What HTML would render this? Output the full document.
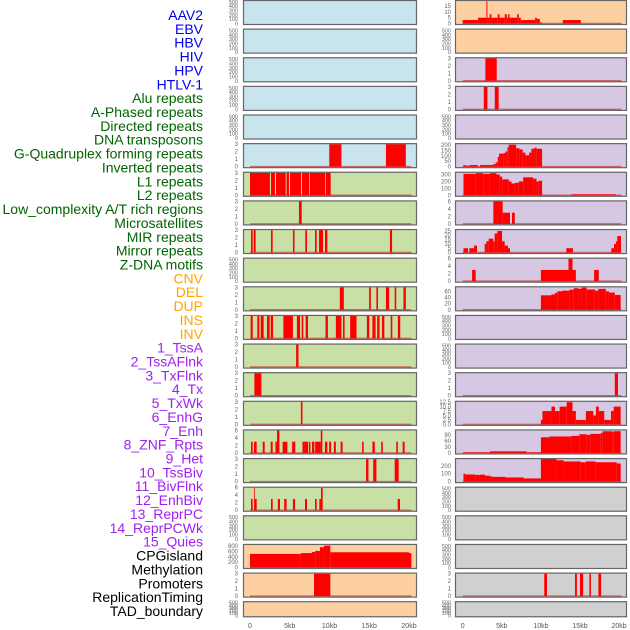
<!DOCTYPE html>
<html><head><meta charset="utf-8"><style>
html,body{margin:0;padding:0;background:#fff;}
svg{display:block;font-family:"Liberation Sans",sans-serif;}
</style></head><body>
<svg id="chart" width="630" height="630" viewBox="0 0 630 630" xmlns="http://www.w3.org/2000/svg"></svg>
<script>
// ---- data ----
const labels = ["AAV2","EBV","HBV","HIV","HPV","HTLV-1","Alu repeats","A-Phased repeats","Directed repeats","DNA transposons","G-Quadruplex forming repeats","Inverted repeats","L1 repeats","L2 repeats","Low_complexity A/T rich regions","Microsatellites","MIR repeats","Mirror repeats","Z-DNA motifs","CNV","DEL","DUP","INS","INV","1_TssA","2_TssAFlnk","3_TxFlnk","4_Tx","5_TxWk","6_EnhG","7_Enh","8_ZNF_Rpts","9_Het","10_TssBiv","11_BivFlnk","12_EnhBiv","13_ReprPC","14_ReprPCWk","15_Quies","CPGisland","Methylation","Promoters","ReplicationTiming","TAD_boundary"];
const labelGroups = [6,13,5,15,5];
const groupColors = ["#0000ee","#006400","#ffa500","#a020f0","#000000"];
const xTickLabels = ["0","5kb","10kb","15kb","20kb"];
const xTickValues = [0,5,10,15,20];
const emptyTicks = [0,100,200,300,400,500];
const ticks3 = [0,1,2,3];
const ticks6 = [0,2,4,6];

// segments: [startKb, endKb, value]
const leftBg = ["b","b","b","b","b","b","g","g","g","g","g","g","g","g","g","g","g","g","g","o","o","o"];
const rightBg = ["o","o","p","p","p","p","p","p","p","p","p","p","p","p","p","p","p","y","y","y","y","y"];

const L_gquad = [[9.97,11.5,3],[17.1,19.6,3]];
const L_inv = [[0,2.5,3],[2.64,3.14,3],[3.27,4.49,3],[4.6,4.9,3],[5.03,6.42,3],[6.54,7.46,3],[7.55,9.48,3],[9.56,10.15,3]];
const L_l1 = [[6.16,6.5,3]];
const L_l2 = [[0.13,0.34,3],[0.46,0.71,3],[2.64,2.85,3],[5.4,5.6,3],[6.96,7.17,3],[8.18,8.39,3],[8.68,9.18,3],[9.43,9.73,3],[17.6,17.87,3]];
const L_mir = [[11.3,11.8,3],[14.98,15.2,3],[15.9,16.1,3],[17.1,17.5,3],[18.2,18.4,3],[19.3,19.6,3]];
const L_mirror = [[0.08,0.34,3],[0.92,1.17,3],[1.34,1.72,3],[2.14,2.47,3],[2.6,2.9,3],[4.2,5.4,3],[5.9,6.3,3],[6.5,6.7,3],[7.0,7.3,3],[9.5,9.8,3],[10.8,11.5,3],[11.7,11.9,3],[12.6,13.4,3],[14.7,15.0,3],[15.4,15.8,3],[16.0,16.3,3],[16.6,16.9,3],[17.7,17.9,3],[18.6,18.9,3]];
const L_zdna = [[5.8,6.1,3]];
const L_cnv = [[0.55,1.43,3]];
const L_del = [[6.4,6.6,3]];
const L_dup = [[0.13,0.34,3],[0.5,0.84,3],[1.6,1.85,3],[2.6,2.85,3],[3.2,3.4,3],[3.4,3.7,6],[4.1,4.7,3],[5.3,5.7,3],[6.6,6.8,3],[6.8,7.3,3],[7.4,7.6,3],[7.8,8.1,3],[8.2,8.9,3],[8.9,9.1,6],[9.43,9.73,3],[9.95,10.2,3],[10.55,10.8,3],[11.4,11.65,3],[14.1,14.3,3],[15.4,15.7,3],[16.5,16.7,3],[18.4,18.6,3],[19.2,19.45,3]];
const L_invsv = [[14.6,14.9,3],[15.5,15.9,3],[18.2,18.7,3]];
const L_tssa = [[0.13,0.34,3],[0.5,0.59,6],[0.59,0.84,3],[2.64,2.85,3],[3.5,3.77,3],[4.3,4.6,3],[5.4,5.67,3],[6.92,7.17,3],[8.18,8.39,3],[8.72,8.93,3],[8.93,9.14,6],[18.58,18.87,3]];
const L_cpg = [[0,6.4,510],[6.4,7.8,540],[7.8,8.2,580],[8.2,8.8,620],[8.8,9.3,760],[9.3,10.1,820],[10.1,20,570],[20,20.3,540]];
const L_prom = [[8.05,10.1,3]];

const R_aav2 = [[0,1.96,3],[1.96,3.03,5],[3.03,3.16,19],[3.16,3.45,5],[3.45,3.67,8],[3.67,4.48,5],[4.48,4.7,8],[4.7,5.38,5],[5.38,5.64,8],[5.64,5.8,5],[5.8,5.98,8],[5.98,6.96,5],[6.96,7.17,8],[7.17,7.43,5],[7.43,9.26,3],[9.26,9.48,5],[9.48,9.86,4],[9.86,10.08,1],[12.8,15.1,3]];
const R_tssa = [[2.9,4.35,3]];
const R_tssaflnk = [[2.7,3.16,3],[4.1,4.6,3]];
const R_tx = [[0.1,0.34,15],[0.34,0.94,10],[0.94,1.92,15],[2.22,3.92,15],[3.92,4.22,25],[4.22,4.48,40],[4.48,4.65,90],[4.65,5.2,120],[5.2,5.46,125],[5.46,5.72,140],[5.72,5.89,180],[5.89,6.83,203],[6.83,7.25,170],[7.25,7.68,160],[7.68,8.02,130],[8.02,8.49,105],[8.49,8.79,130],[8.79,9.17,165],[9.17,9.47,175],[9.47,10.15,165]];
const R_txwk = [[0.1,1.68,310],[1.68,2.62,320],[2.62,3.47,310],[3.47,4.32,320],[4.32,4.75,300],[4.75,5.05,270],[5.05,5.9,230],[5.9,6.24,200],[6.24,6.66,170],[6.66,7.17,180],[7.17,7.73,200],[7.73,9.0,260],[9.0,9.43,240],[9.43,9.73,200],[9.73,10.15,210],[13.9,19.57,15]];
const R_enhg = [[3.92,5.11,6],[5.11,6.05,3],[6.3,6.66,3]];
const R_enh = [[0.1,0.68,5],[0.85,1.45,5],[1.45,1.83,8],[2.81,3.02,10],[3.02,3.32,13],[3.32,3.92,16],[3.92,4.09,13],[4.09,4.43,22],[4.43,5.03,25],[5.03,5.37,13],[5.37,5.79,8],[5.79,6.05,5],[13.25,14.1,5],[19.0,19.35,5],[19.35,19.6,10],[19.6,19.77,13],[19.77,20.24,19]];
const R_znf = [[1.2,1.66,3],[10.0,13.53,3],[13.53,14.04,6],[14.04,14.47,3],[16.8,17.4,3]];
const R_het = [[10.0,11.35,47],[11.35,11.8,50],[11.8,12.1,55],[12.1,12.7,60],[12.7,13.64,62],[13.64,14.2,65],[14.2,14.8,70],[14.8,15.2,68],[15.2,15.85,72],[15.85,16.9,66],[16.9,17.35,62],[17.35,18.3,68],[18.3,18.7,60],[18.7,19.45,56],[19.45,20.2,48]];
const R_enhbiv = [[19.45,19.85,3]];
const R_reprpc = [[10.0,10.2,2.5],[10.2,11.35,7.5],[11.35,11.8,10],[11.8,12.4,7.5],[12.4,13.3,10],[13.3,14.04,12.5],[14.04,14.47,7.5],[14.47,15.75,2.5],[15.75,16.7,7.5],[16.7,17.04,5],[17.04,17.4,10],[17.4,18.1,7.5],[18.1,18.96,2.5],[18.96,19.3,7.5],[19.3,20.2,10]];
const R_reprpcwk = [[0.1,3.5,3],[3.5,8.18,8],[8.18,10.0,3],[10.0,11.1,78],[11.1,13.9,82],[13.9,14.9,85],[14.9,15.85,93],[15.85,16.3,90],[16.3,17.65,95],[17.65,17.9,100],[17.9,19.1,108],[19.1,19.25,105],[19.25,20.2,108]];
const R_quies = [[0.1,0.34,100],[0.34,1.6,90],[1.6,2.2,85],[2.2,2.85,88],[2.85,3.5,75],[3.5,3.8,65],[3.8,5.5,60],[5.5,7.8,52],[7.8,10.0,40],[10.0,12.0,290],[12.0,12.9,270],[12.9,15.1,255],[15.1,15.75,245],[15.75,17.0,255],[17.0,19.7,245],[19.7,20.2,230]];
const R_prom = [[10.43,10.78,3],[14.36,14.6,3],[15.0,15.4,3],[16.2,16.4,3],[17.35,17.7,3]];

// panel definitions: [segments, tickValues, tickLabels, yTop]
const leftPanels = [
  [null],[null],[null],[null],[null],
  [L_gquad,ticks3,null,3],
  [L_inv,ticks3,null,3],
  [L_l1,ticks3,null,3],
  [L_l2,ticks3,null,3],
  [null],
  [L_mir,ticks3,null,3],
  [L_mirror,ticks3,null,3],
  [L_zdna,ticks3,null,3],
  [L_cnv,ticks3,null,3],
  [L_del,ticks3,null,3],
  [L_dup,ticks6,null,6],
  [L_invsv,ticks3,null,3],
  [L_tssa,ticks6,null,6],
  [null],
  [L_cpg,[0,200,400,600,800],null,845],
  [L_prom,ticks3,null,3],
  [null]
];
const rightPanels = [
  [R_aav2,[0,5,10,15],null,19.4],
  [null],
  [R_tssa,ticks3,null,3],
  [R_tssaflnk,ticks3,null,3],
  [null],
  [R_tx,[0,50,100,150,200],null,208],
  [R_txwk,[0,100,200,300],null,325],
  [R_enhg,ticks6,null,6],
  [R_enh,[0,5,10,15,20,25],null,26],
  [R_znf,ticks6,null,6],
  [R_het,[0,20,40,60],null,73],
  [null],[null],
  [R_enhbiv,ticks3,null,3],
  [R_reprpc,[0,2.5,5,7.5,10,12.5],["0.0","2.5","5.0","7.5","10.0","12.5"],12.7],
  [R_reprpcwk,[0,30,60,90],null,112],
  [R_quies,[0,100,200],null,285],
  [null],[null],[null],
  [R_prom,ticks3,null,3],
  [null]
];

// ---- drawing ----
const NS="http://www.w3.org/2000/svg";
const svg=document.getElementById('chart');
function el(tag,attrs,parent){const e=document.createElementNS(NS,tag);for(const k in attrs)e.setAttribute(k,attrs[k]);(parent||svg).appendChild(e);return e;}
const bgColors={b:"#c8e4ec",g:"#c8e0a5",o:"#fdd0a2",p:"#d6c8e3",y:"#d0d0d0"};
const cols=[{x0:243,x1:417,z:250,k:7.95,tickX:238,bg:leftBg,panels:leftPanels,name:'left'},
            {x0:455,x1:627,z:462.7,k:7.82,tickX:451,bg:rightBg,panels:rightPanels,name:'right'}];
const pitch=28.63;

// labels
let idx=0;
labelGroups.forEach((n,g)=>{for(let i=0;i<n;i++){
  const t=el('text',{x:203,y:(20+idx*13.86).toFixed(1),'text-anchor':'end','font-size':'14',fill:groupColors[g]});
  t.textContent=labels[idx];
  
  
  idx++;
}});

cols.forEach((c,ci)=>{
  const xs=kb=>c.z+kb*c.k;
  c.panels.forEach((p,r)=>{
    const top=r*pitch, h=(r===21?16:25), bottom=top+h;
    const g=el('g',{});
    
    
    el('rect',{x:c.x0,y:top,width:c.x1-c.x0,height:h,fill:bgColors[c.bg[r]]},g);
    const segs=p[0];
    const y0=bottom-1.5;
    let tv,tl,ys;
    if(!segs){
      tv=emptyTicks;tl=null;ys=v=>y0-(v/520)*(h-2.5);
    } else {
      tv=p[1];tl=p[2];const yt=p[3];
      ys=v=>y0-(v/yt)*(h-2.5);
      el('line',{x1:xs(0),x2:xs(20.3),y1:y0,y2:y0,stroke:'rgba(200,30,30,0.6)','stroke-width':1.5},g);
      segs.forEach(s=>{
        const b=el('rect',{x:xs(s[0]).toFixed(2),y:ys(s[2]).toFixed(2),width:Math.max(0.8,xs(s[1])-xs(s[0])).toFixed(2),height:(y0-ys(s[2])).toFixed(2),fill:'#ff0000'},g);
        
        
      });
    }
    el('rect',{x:c.x0+0.5,y:top+0.5,width:c.x1-c.x0-1,height:h-1,fill:'none',stroke:'#666','stroke-width':1.2},g);
    tv.forEach((v,i)=>{
      const t=el('text',{x:c.tickX,y:(ys(v)+2).toFixed(1),'text-anchor':'end','font-size':(segs?'6':'5.5'),fill:'#666'},g);
      t.textContent=tl?tl[i]:String(v);
    });
  });
  xTickValues.forEach((v,i)=>{
    const t=el('text',{x:xs(v),y:628,'text-anchor':'middle','font-size':'7',fill:'#555'});
    t.textContent=xTickLabels[i];
    
    
  });
});
</script>
</body></html>
